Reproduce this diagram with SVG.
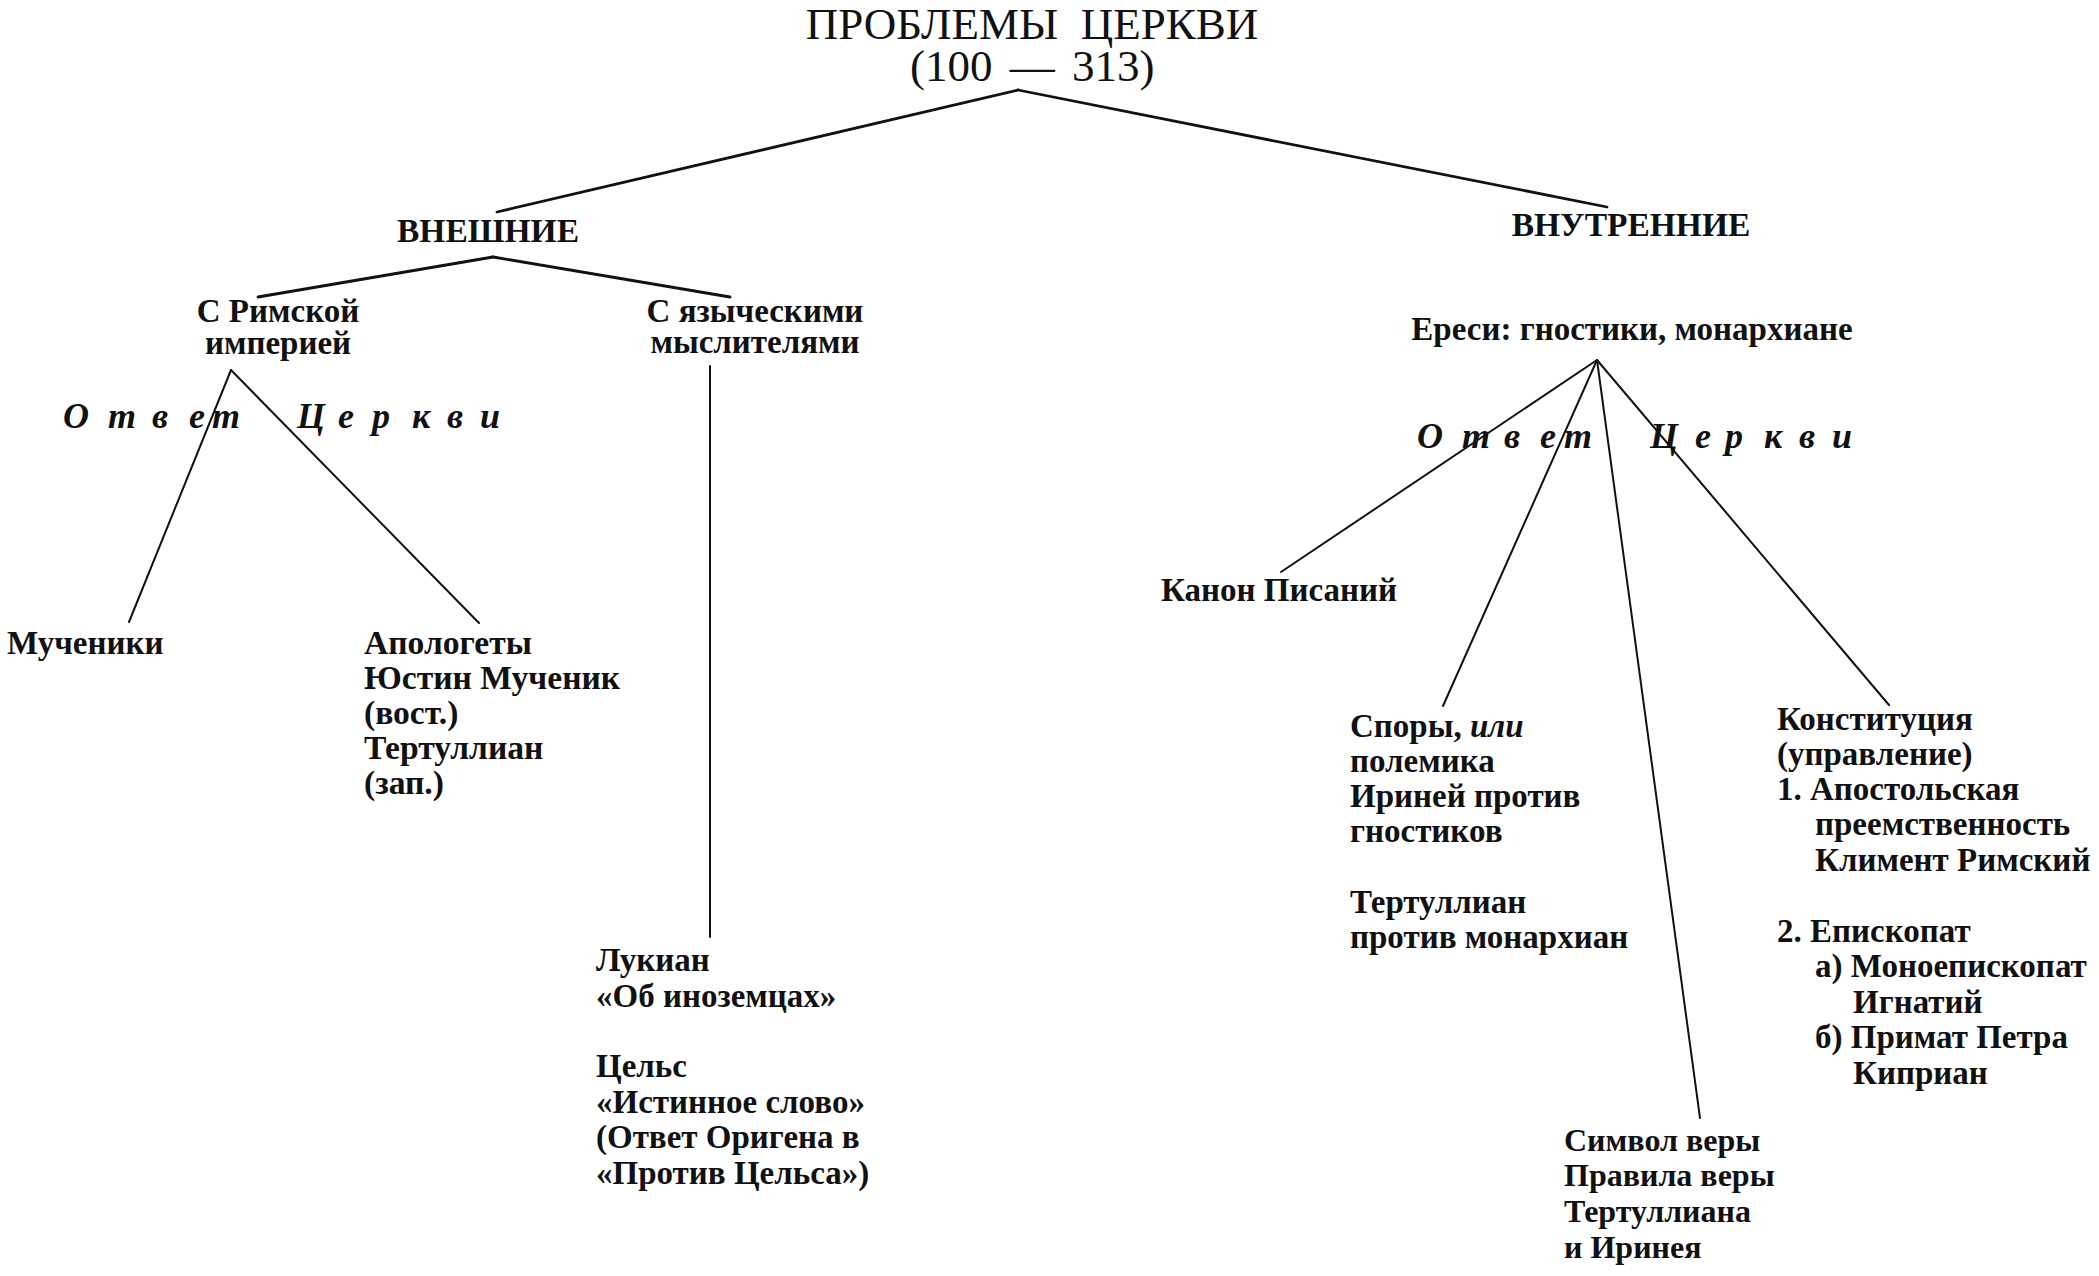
<svg xmlns="http://www.w3.org/2000/svg" width="2099" height="1276" viewBox="0 0 2099 1276">
<style>
.bg{fill:#fff}
text{font-family:"Liberation Serif","Times New Roman",serif;fill:#111}
.title{font-size:45px;font-weight:normal;white-space:pre}
.head{font-size:33.5px;font-weight:bold}
.lbl{font-size:33px;font-weight:bold}
.wide{font-size:33.6px}
.sm{font-size:32px}
.ans{font-size:36px;font-weight:bold;font-style:italic}
.it{font-style:italic}
.c{text-anchor:middle}
.ln{stroke:#111;stroke-width:2;fill:none;stroke-linecap:round}
.ln.top{stroke-width:2.8}
</style>
<rect class="bg" x="0" y="0" width="2099" height="1276"/>
<g id="connectors">
<line class="ln top" x1="1018" y1="90" x2="497" y2="212"/>
<line class="ln top" x1="1018" y1="90" x2="1607" y2="207"/>
<line class="ln top" x1="493" y1="257" x2="258" y2="297"/>
<line class="ln top" x1="493" y1="257" x2="730" y2="297"/>
<line class="ln" x1="231" y1="370" x2="129" y2="622"/>
<line class="ln" x1="231" y1="370" x2="479" y2="623"/>
<line class="ln" x1="710" y1="366" x2="710" y2="937"/>
<line class="ln" x1="1597" y1="360" x2="1281" y2="572"/>
<line class="ln" x1="1597" y1="360" x2="1443" y2="706"/>
<line class="ln" x1="1597" y1="360" x2="1700" y2="1118"/>
<line class="ln" x1="1597" y1="360" x2="1889" y2="705"/>
</g>
<g id="root">
<text class="title c" x="1032" y="39">ПРОБЛЕМЫ  ЦЕРКВИ</text>
<text class="title" x="910" y="81">(100 <tspan dx="6">—</tspan><tspan dx="6"> 313)</tspan></text>
</g>
<g id="external"><text class="head c" x="488" y="242">ВНЕШНИЕ</text></g>
<g id="internal"><text class="head c" x="1631" y="236">ВНУТРЕННИЕ</text></g>
<g id="roman">
<text class="lbl c" x="278" y="322" font-size="33.8">С Римской</text>
<text class="lbl c" x="278" y="354" font-size="33.8">империей</text>
</g>
<g id="pagan">
<text class="lbl c" x="755" y="322" font-size="32.4">С языческими</text>
<text class="lbl c" x="755" y="353" font-size="32.4">мыслителями</text>
</g>
<g id="answer-left"><text class="ans" y="428" x="63 108 152 189 212 297 338 372 412 447 480">ОтветЦеркви</text></g>
<g id="answer-right"><text class="ans" y="448" x="1417 1462 1504 1540 1564 1650 1695 1725 1764 1799 1832">ОтветЦеркви</text></g>
<g id="martyrs"><text class="lbl" x="7" y="654" font-size="34.2">Мученики</text></g>
<g id="apologists">
<text class="lbl wide" x="364" y="654">Апологеты</text>
<text class="lbl wide" x="364" y="689">Юстин Мученик</text>
<text class="lbl wide" x="364" y="724">(вост.)</text>
<text class="lbl wide" x="364" y="759">Тертуллиан</text>
<text class="lbl wide" x="364" y="794">(зап.)</text>
</g>
<g id="pagan-writers">
<text class="lbl" x="596" y="971">Лукиан</text>
<text class="lbl" x="596" y="1007">«Об иноземцах»</text>
<text class="lbl" x="596" y="1077">Цельс</text>
<text class="lbl" x="596" y="1113">«Истинное слово»</text>
<text class="lbl" x="596" y="1148">(Ответ Оригена в</text>
<text class="lbl" x="596" y="1184">«Против Цельса»)</text>
</g>
<g id="heresies"><text class="lbl c" x="1632" y="340" font-size="33.6">Ереси: гностики, монархиане</text></g>
<g id="canon"><text class="lbl" x="1161" y="601" font-size="34.8">Канон Писаний</text></g>
<g id="polemics">
<text class="lbl" x="1350" y="737">Споры, <tspan class="it">или</tspan></text>
<text class="lbl" x="1350" y="772">полемика</text>
<text class="lbl" x="1350" y="807">Ириней против</text>
<text class="lbl" x="1350" y="842">гностиков</text>
<text class="lbl" x="1350" y="913">Тертуллиан</text>
<text class="lbl" x="1350" y="948">против монархиан</text>
</g>
<g id="creed">
<text class="lbl sm" x="1564" y="1151">Символ веры</text>
<text class="lbl sm" x="1564" y="1186">Правила веры</text>
<text class="lbl sm" x="1564" y="1222">Тертуллиана</text>
<text class="lbl sm" x="1564" y="1258">и Иринея</text>
</g>
<g id="constitution">
<text class="lbl" x="1777" y="730" font-size="34">Конституция</text>
<text class="lbl" x="1777" y="765" font-size="34">(управление)</text>
<text class="lbl" x="1777" y="800">1. Апостольская</text>
<text class="lbl" x="1815" y="835">преемственность</text>
<text class="lbl" x="1815" y="871">Климент Римский</text>
<text class="lbl" x="1777" y="942">2. Епископат</text>
<text class="lbl" x="1815" y="977">а) Моноепископат</text>
<text class="lbl" x="1853" y="1013">Игнатий</text>
<text class="lbl" x="1815" y="1048">б) Примат Петра</text>
<text class="lbl" x="1853" y="1084">Киприан</text>
</g>
</svg>
